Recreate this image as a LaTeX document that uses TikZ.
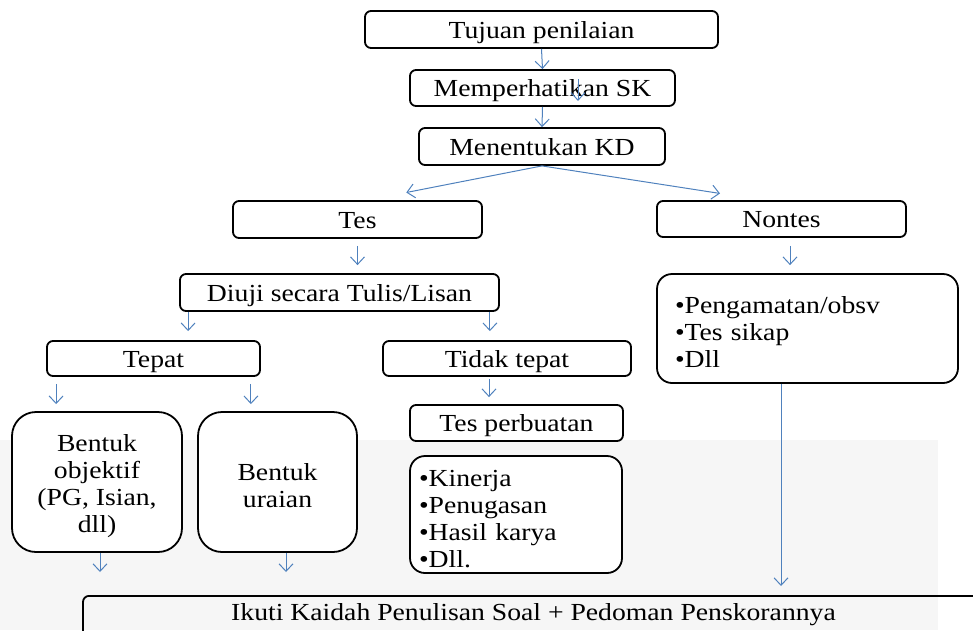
\documentclass[tikz,border=0pt]{standalone}
\usepackage{fontspec}
\setmainfont[FakeStretch=1.13]{Liberation Serif}
\usetikzlibrary{arrows.meta}
\definecolor{arrblue}{HTML}{4F81BD}
\tikzset{
  base/.style={draw=black, line width=1.8pt, rounded corners=6pt, fill=white,
    inner sep=0pt, align=center, font=\fontsize{24.5}{27}\selectfont},
  box/.style={base, text height=20pt, text depth=3pt},
  bigbox/.style={base, rounded corners=24pt},
  listbox/.style={base, rounded corners=15pt, align=left},
  arr/.style={draw=arrblue, line width=1pt, -{Straight Barb[length=7.5pt,width=14pt,line width=1pt]}}
}
\newcommand{\dn}{\rule{0pt}{25pt}}
\begin{document}
\begin{tikzpicture}[x=1pt,y=-1pt]
\useasboundingbox (0,0) rectangle (973,630);
\clip (0,0) rectangle (973,630);
% faint watermark background
\fill[gray!7] (0,440) rectangle (938,630);

\node[box, minimum width=353, minimum height=37] (tujuan) at (541.5,29.5) {Tujuan penilaian};
\node[box, minimum width=265, minimum height=36] (sk) at (542.5,88) {Memperhatikan SK};
\node[box, minimum width=246, minimum height=37] (kd) at (542,146.5) {Menentukan KD};
\node[box, minimum width=249, minimum height=37] (tes) at (357.5,219.5) {Tes};
\node[box, minimum width=249, minimum height=36] (nontes) at (781.5,219) {Nontes};
\node[box, minimum width=319, minimum height=37] (diuji) at (339.5,292.5) {Diuji secara Tulis/Lisan};
\node[box, minimum width=213, minimum height=35] (tepat) at (153.5,358.5) {Tepat};
\node[box, minimum width=248, minimum height=35] (tidak) at (507,358.5) {Tidak tepat};
\node[listbox, minimum width=301, minimum height=109, text width=265] (peng) at (807.5,328.5)
  {\dn•Pengamatan/obsv\\•Tes sikap\\•Dll};
\node[box, minimum width=213, minimum height=36] (tesp) at (516.5,423) {Tes perbuatan};
\node[listbox, minimum width=212, minimum height=117, text width=194] (kin) at (516,514.5)
  {\dn•Kinerja\\•Penugasan\\•Hasil karya\\•Dll.};
\node[bigbox, minimum width=170, minimum height=140] (obj) at (97,482)
  {\dn Bentuk\\objektif\\(PG, Isian,\\dll)};
\node[bigbox, minimum width=159, minimum height=140] (ura) at (277.5,482)
  {\dn Bentuk\\uraian};
\node[base, fill=none, minimum width=901, anchor=north, inner ysep=0pt,
  text height=25pt, text depth=22pt] (ikuti) at (533.5,595)
  {Ikuti Kaidah Penulisan Soal + Pedoman Penskorannya};

% connectors
\draw[arr] (tujuan.south) -- (sk.north);
\draw[arr, shorten <=10pt, shorten >=6pt] ([xshift=35.5pt]sk.north) -- ([xshift=35.5pt]sk.south);
\draw[arr] (sk.south) -- (kd.north);
\draw[arr, shorten >=39.5pt] (kd.south) -- ([xshift=10pt]tes.north);
\draw[arr, shorten >=43.5pt] (kd.south) -- ([xshift=-18.5pt]nontes.north);
\draw[arr, shorten <=7pt, shorten >=8pt] (tes.south) -- (tes.south |- diuji.north);
\draw[arr, shorten <=8pt, shorten >=8pt] ([xshift=8.5pt]nontes.south) -- ([xshift=8.5pt]nontes.south |- peng.north);
\draw[arr, shorten >=9pt] ([xshift=9pt]diuji.south west) -- ([xshift=9pt]diuji.south west |- tepat.north);
\draw[arr, shorten >=9pt] ([xshift=-10pt]diuji.south east) -- ([xshift=-10pt]diuji.south east |- tidak.north);
\draw[arr, shorten <=7pt, shorten >=7pt] ([xshift=10pt]tepat.south west) -- ([xshift=10pt]tepat.south west |- obj.north);
\draw[arr, shorten <=7pt, shorten >=7pt] ([xshift=-10pt]tepat.south east) -- ([xshift=-10pt]tepat.south east |- ura.north);
\draw[arr, shorten <=2pt, shorten >=7pt] ([xshift=-18pt]tidak.south) -- ([xshift=-18pt]tidak.south |- tesp.north);
\draw[arr, shorten >=23pt] ([xshift=3pt]obj.south) -- ([xshift=3pt]obj.south |- ikuti.north);
\draw[arr, shorten >=23pt] ([xshift=8.5pt]ura.south) -- ([xshift=8.5pt]ura.south |- ikuti.north);
\draw[arr, shorten >=9pt] ([xshift=-26.5pt]peng.south) -- ([xshift=-26.5pt]peng.south |- ikuti.north);
\end{tikzpicture}
\end{document}
